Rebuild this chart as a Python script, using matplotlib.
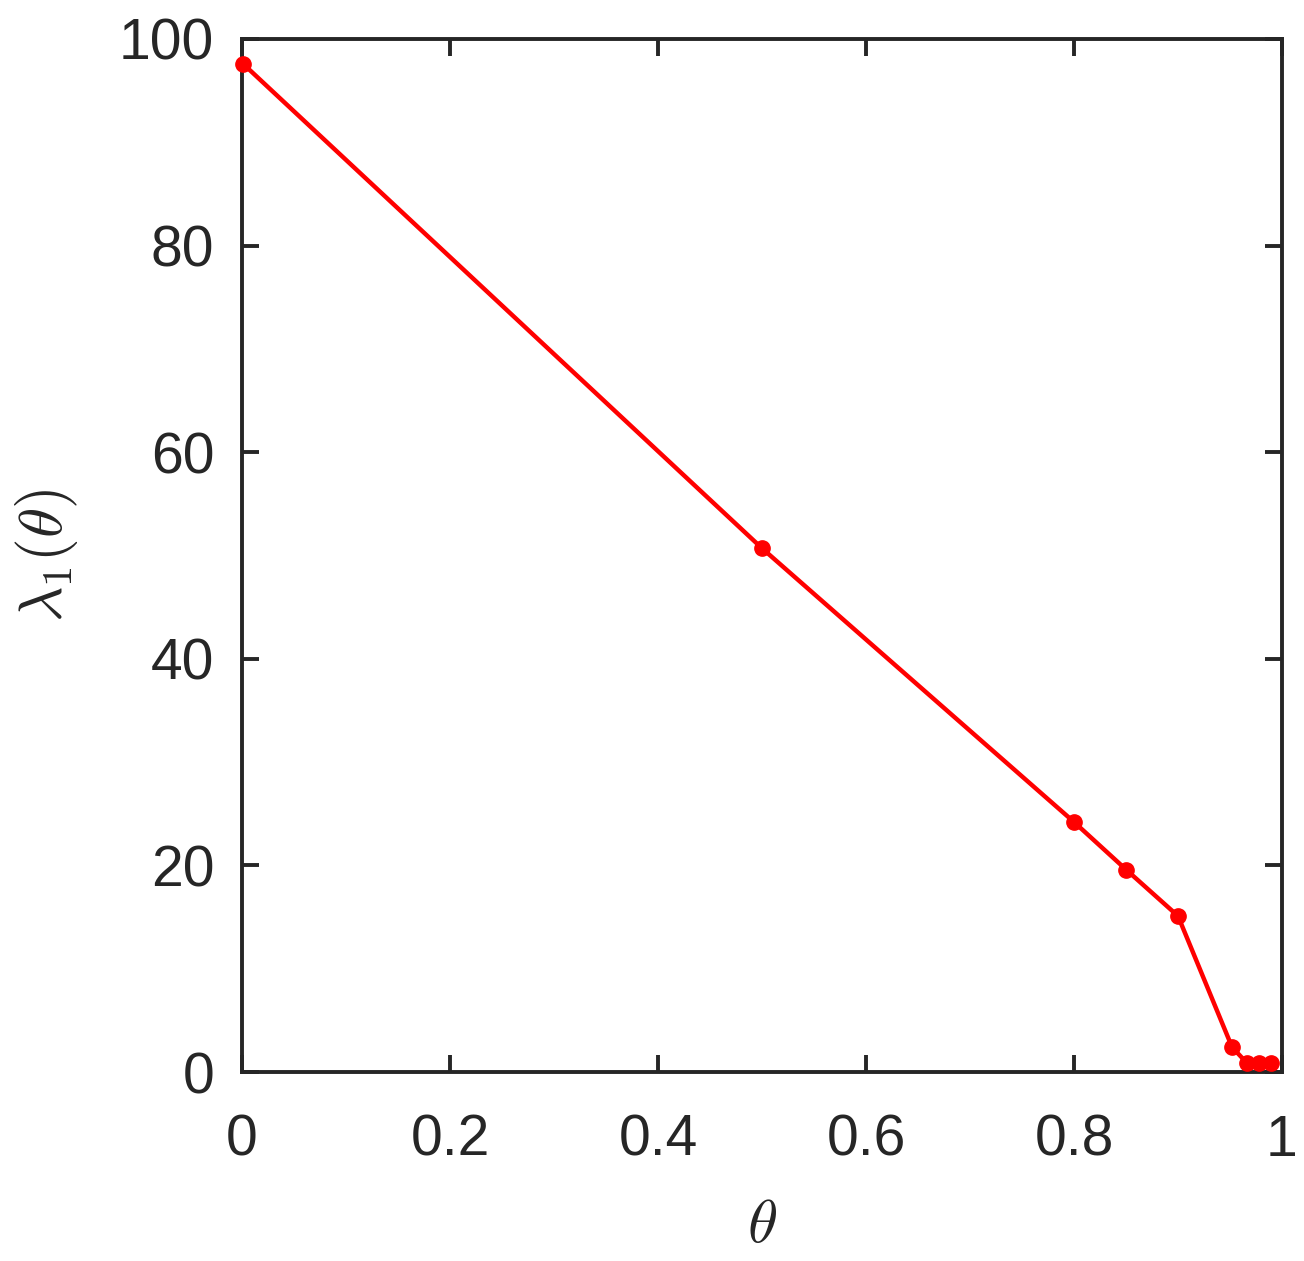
import matplotlib
matplotlib.use("Agg")
import matplotlib.pyplot as plt

theta = [0.001, 0.5, 0.8, 0.85, 0.9, 0.952, 0.966, 0.978, 0.989]
lam1 = [97.6, 50.7, 24.2, 19.6, 15.1, 2.4, 0.9, 0.9, 0.9]
xticks = [0, 0.2, 0.4, 0.6, 0.8, 1]
xticklabels = ["0", "0.2", "0.4", "0.6", "0.8", "1"]
yticks = [0, 20, 40, 60, 80, 100]

plt.rcParams['font.family'] = ['Liberation Sans', 'DejaVu Sans']
plt.rcParams['mathtext.fontset'] = 'cm'

fig = plt.figure(figsize=(13.04, 12.61), dpi=100)
ax = fig.add_axes([242/1304, 1 - 1072/1261, (1282-242)/1304, (1072-39)/1261])
ax.plot(theta, lam1, color='#ff0000', lw=3.2, marker='o', ms=11, clip_on=False, zorder=3)
ax.set_xlim(0, 1)
ax.set_ylim(0, 100)
ax.set_xticks(xticks)
ax.set_xticklabels(xticklabels)
ax.set_yticks(yticks)
col = '#262626'
for s in ax.spines.values():
    s.set_color(col)
    s.set_linewidth(2.8)
ax.tick_params(direction='in', length=12, width=2.8, colors=col, labelsize=41,
               top=True, right=True)
ax.tick_params(axis='x', pad=30)
ax.tick_params(axis='y', pad=20)
for lab in ax.get_xticklabels() + ax.get_yticklabels():
    lab.set_color(col)
ax.set_xlabel(r'$\theta$', fontsize=44, color=col, labelpad=22)
ax.set_ylabel(r'$\lambda_1(\theta)$', fontsize=44, color=col, labelpad=28)
fig.savefig('out.png', dpi=100)
